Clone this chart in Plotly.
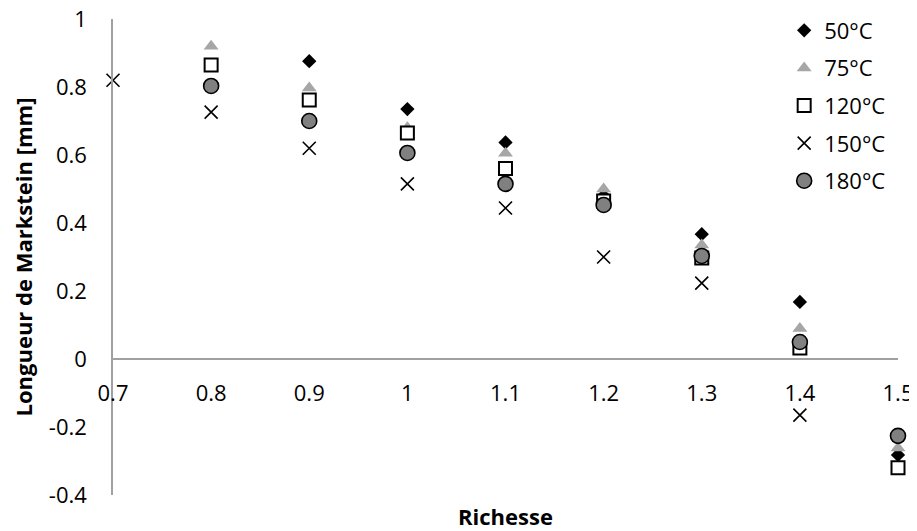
import plotly.graph_objects as go

richesse = [0.7, 0.8, 0.9, 1.0, 1.1, 1.2, 1.3, 1.4, 1.5]

series_names = ["50°C", "75°C", "120°C", "150°C", "180°C"]
v50 = [None, None, 0.876, 0.735, 0.637, 0.48, 0.367, 0.168, -0.282]
v75 = [None, 0.92, 0.797, 0.68, 0.605, 0.500, 0.335, 0.090, -0.262]
v120 = [None, 0.865, 0.762, 0.665, 0.560, 0.465, 0.297, 0.032, -0.320]
v150 = [0.82, 0.726, 0.620, 0.515, 0.444, 0.300, 0.223, -0.165, None]
v180 = [None, 0.803, 0.700, 0.606, 0.515, 0.453, 0.303, 0.050, -0.226]

x_ticks = [0.7, 0.8, 0.9, 1.0, 1.1, 1.2, 1.3, 1.4, 1.5]
x_ticktext = ["0.7", "0.8", "0.9", "1", "1.1", "1.2", "1.3", "1.4", "1.5"]
y_ticks = [-0.4, -0.2, 0, 0.2, 0.4, 0.6, 0.8, 1.0]
y_ticktext = ["-0.4", "-0.2", "0", "0.2", "0.4", "0.6", "0.8", "1"]

y_min, y_max = -0.4, 1.0

styles = [
    dict(symbol="diamond", size=11, color="#000000", line=dict(width=0)),
    dict(symbol="triangle-up", size=13, color="#a6a6a6", line=dict(width=0)),
    dict(symbol="square", size=13, color="#ffffff", line=dict(width=2, color="#000000")),
    dict(symbol="x-thin", size=13, color="#000000", line=dict(width=1.6, color="#000000")),
    dict(symbol="circle", size=15, color="#808080", line=dict(width=1.6, color="#000000")),
]

font_family = "Open Sans, DejaVu Sans, sans-serif"

fig = go.Figure()
for i, (name, vals) in enumerate(zip(series_names, [v50, v75, v120, v150, v180])):
    fig.add_trace(go.Scatter(
        x=richesse, y=vals, mode="markers", name=name,
        marker=styles[i], cliponaxis=False, legendgroup=name,
    ))

fig.update_layout(
    width=909, height=523,
    margin=dict(l=105, r=19, t=11, b=36, autoexpand=False),
    paper_bgcolor="white", plot_bgcolor="white",
    font=dict(family=font_family, color="#000000", size=22),
    showlegend=True,
    legend=dict(
        x=0.855, xanchor="left",
        y=1.02, yanchor="top",
        bgcolor="rgba(0,0,0,0)", font=dict(size=22),
        tracegroupgap=6, itemwidth=30,
    ),
    xaxis=dict(
        range=[0.7, 1.5], tickvals=x_ticks, ticktext=x_ticktext,
        showgrid=False, zeroline=False, showline=True,
        linecolor="#a0a0a0", linewidth=1.5, automargin=False,
        anchor="free", position=(0 - y_min) / (y_max - y_min),
        ticks="outside", ticklen=15, tickcolor="rgba(0,0,0,0)",
        tickfont=dict(size=22), ticklabeloverflow="allow",
    ),
    yaxis=dict(
        range=[y_min, y_max], tickvals=y_ticks, ticktext=y_ticktext,
        showgrid=False, zeroline=False, showline=True,
        linecolor="#a0a0a0", linewidth=1.5, automargin=False,
        ticks="outside", ticklen=20, tickcolor="rgba(0,0,0,0)",
        tickfont=dict(size=22), ticklabeloverflow="allow",
        title=dict(text="<b>Longueur de Markstein [mm]</b>", font=dict(size=22), standoff=22),
    ),
    annotations=[dict(
        text="<b>Richesse</b>", xref="paper", yref="paper",
        x=0.5, y=0.0, xanchor="center", yanchor="top", yshift=-4,
        showarrow=False, font=dict(size=22),
    )],
)

fig.write_html("out.html")
